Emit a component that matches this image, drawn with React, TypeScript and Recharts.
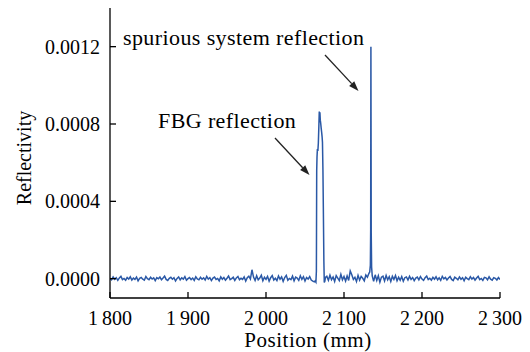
import { LineChart, Line, XAxis, YAxis } from "recharts"

// reflectivity values are written in units of 1e-6
const seg1Start = 1800
const seg1Step = 2
const seg1 = [
  2, -6, 9, -3, 5, -9, 4, 12, -5, 1, -8, 6, -2, 10, -7, 3, -4, 8, -11, 2, 6, -3, -8, 11, 0, -5, 7, -2, 4, -10, 5,
  -1, 8, -6, 3, 13, -4, -9, 2, 7, -3, 5, -12, 1, 9, -6, 4, -2, 11, -8, 0, 6, -5, 3, -9, 10, -1, -6, 7, -3, 4,
  -7, 12, -2, 5, -10, 3, 8, -4, 1, -11, 9, -3, 6, -8, 2, 14, -5, 0, 7, -9, 4, 11, -6, 2, -4, 9, -12, 5, 13, -2,
  46, 8, -9, 15, -6, 3, 18, -11, 7, -4, 12, -13, 5, 16, -7, 2, -10, 14, -3, 9, -14, 6, 17, -8, 1, -5, 13, -11, 8, 3,
  -9, 15, -4, 10, -12, 6, -2, 11, -7, -13, -16,
]

const fbgPeak: [number, number][] = [
  [2063, -12], [2064, -18], [2064.6, 40], [2065.0, 560], [2065.4, 630], [2065.9, 670], [2066.5, 660],
  [2067.1, 700], [2067.7, 780], [2068.3, 865], [2068.7, 840], [2069.1, 860], [2069.6, 820], [2070.1, 805],
  [2070.7, 780], [2071.4, 755], [2071.9, 735], [2072.4, 705], [2073.0, 560], [2073.6, 330], [2074.2, 90],
  [2074.7, -20], [2075.4, -14], [2076.2, 6],
]

const seg2Start = 2078
const seg2Step = 2
const seg2 = [12, -8, 18, -5, 9, -14, 16, 3, -10, 22, -6, 11, -12, 14, -9, 40, 20, -4, 7, -15, 17, -7, 12, 2, -11, 19, 8, 28]

const spuriousPeak: [number, number][] = [
  [2133, 35], [2133.8, 70], [2134.2, 255], [2134.5, 1200], [2134.9, 240], [2135.4, 60], [2136.2, 15],
]

const seg3Start = 2138
const seg3Step = 2
const seg3 = [
  -14, 20, -9, 15, -18, 8, 13, -12, 17, -6, 10, -15, 12, -4, 16, -11, 7, -8, 11, -13, 5,
  9, -7, 12, -4, 6, -10, 3, 8, -6, 11, -2, -9, 5, 13, -5, 2, -8, 7, -3, 10, -6,
  4, -9, 12, -1, 6, -7, 3, 11, -4, -10, 8, 2, -6, 9, -3, 5, -11, 7, 0, -5, 10,
  -2, 6, -8, 3, 12, -5, 1, -9, 7, 4, -6, 10, -3, -8, 5, 2, -7, 6, -4,
]

const xTicks = [1800, 1900, 2000, 2100, 2200, 2300]
const yTicks = [0, 0.0004, 0.0008, 0.0012]

const fromSeg = (start: number, step: number, vals: number[]) =>
  vals.map((v, i) => ({ x: start + i * step, y: v / 1e6 }))
const fromPairs = (pairs: [number, number][]) => pairs.map(([x, v]) => ({ x, y: v / 1e6 }))

const data = [
  ...fromSeg(seg1Start, seg1Step, seg1),
  ...fromPairs(fbgPeak),
  ...fromSeg(seg2Start, seg2Step, seg2),
  ...fromPairs(spuriousPeak),
  ...fromSeg(seg3Start, seg3Step, seg3),
]

const font = "Liberation Serif, Times New Roman, DejaVu Serif, serif"
const fmtX = (v: number) => {
  const s = String(v)
  return s.slice(0, 1) + "\u2009" + s.slice(1)
}

function Arrow({ x1, y1, x2, y2 }: { x1: number; y1: number; x2: number; y2: number }) {
  const a = Math.atan2(y2 - y1, x2 - x1)
  const len = 10
  const w = 3.5
  const bx = x2 - len * Math.cos(a)
  const by = y2 - len * Math.sin(a)
  const px = -Math.sin(a) * w
  const py = Math.cos(a) * w
  return (
    <g>
      <line x1={x1} y1={y1} x2={bx} y2={by} stroke="#222" strokeWidth={1.3} />
      <polygon points={`${x2},${y2} ${bx + px},${by + py} ${bx - px},${by - py}`} fill="#222" />
    </g>
  )
}

export default function App() {
  return (
    <div style={{ position: "absolute", left: 0, top: 0, width: 530, height: 352, background: "#fff", fontFamily: font }}>
      <LineChart width={530} height={352} data={data} margin={{ top: 8, right: 30, left: 0, bottom: 0 }}>
        <XAxis
          type="number"
          dataKey="x"
          domain={[1800, 2300]}
          ticks={xTicks}
          tickFormatter={fmtX}
          allowDataOverflow
          height={54}
          tickSize={-6}
          tickMargin={19}
          axisLine={{ stroke: "#000", strokeWidth: 1.3 }}
          tickLine={{ stroke: "#000", strokeWidth: 1.3 }}
          tick={{ fill: "#000", fontSize: 20, style: { fontFamily: font } }}
          label={{
            content: () => (
              <text x={308} y={347} textAnchor="middle" fontSize={21} letterSpacing={0.5} style={{ fontFamily: font }} fill="#000">
                Position (mm)
              </text>
            ),
          }}
        />
        <YAxis
          type="number"
          domain={[-0.0001, 0.0014]}
          ticks={yTicks}
          tickFormatter={(v: number) => v.toFixed(4)}
          allowDataOverflow
          width={110}
          tickSize={-6}
          tickMargin={16}
          axisLine={{ stroke: "#000", strokeWidth: 1.3 }}
          tickLine={{ stroke: "#000", strokeWidth: 1.3 }}
          tick={{ fill: "#000", fontSize: 20, style: { fontFamily: font } }}
          label={{
            content: () => (
              <text
                x={24}
                y={158}
                transform="rotate(-90 24 158)"
                textAnchor="middle"
                dominantBaseline="central"
                fontSize={20}
                style={{ fontFamily: font }}
                fill="#000"
              >
                Reflectivity
              </text>
            ),
          }}
        />
        <Line type="linear" dataKey="y" stroke="#2a58a6" strokeWidth={1.5} dot={false} isAnimationActive={false} />
      </LineChart>
      <svg width={530} height={352} style={{ position: "absolute", left: 0, top: 0, pointerEvents: "none", fontFamily: font }}>
        <text x={123} y={45} fontSize={22} letterSpacing={0.4} fill="#000">
          spurious system reflection
        </text>
        <text x={158} y={128} fontSize={22} letterSpacing={0.4} fill="#000">
          FBG reflection
        </text>
        <Arrow x1={325} y1={55} x2={358.5} y2={91} />
        <Arrow x1={275} y1={138} x2={309.5} y2={175} />
      </svg>
    </div>
  )
}
